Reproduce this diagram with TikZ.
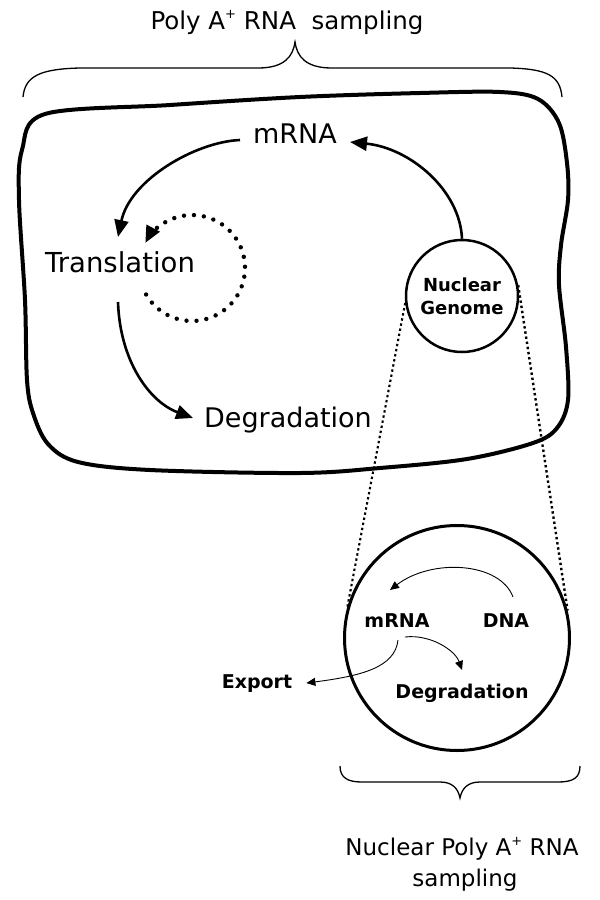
\documentclass[tikz,border=0pt]{standalone}
\usepackage{fontspec}
\setmainfont{DejaVu Sans}
\usetikzlibrary{arrows.meta}
\newcommand{\plussup}{\raisebox{0.42em}{\fontsize{13}{13}\selectfont +}}
\begin{document}
\begin{tikzpicture}[x=1pt,y=-1pt,
  cell/.style={line width=4pt, line join=round},
  nuc/.style={circle, draw, line width=2.5pt, inner sep=0pt},
  bigarrow/.style={line width=2.6pt, -{Triangle[length=17pt,width=14pt]}},
  thinarrow/.style={line width=0.9pt, -{Triangle[length=9pt,width=8pt]}},
  dotarc/.style={line width=4.4pt, line cap=round, dash pattern=on 0pt off 10pt},
  zoomline/.style={line width=2.4pt, dash pattern=on 2.4pt off 2.8pt},
  bracestyle/.style={line width=1.3pt},
  lbl/.style={font=\fontsize{27}{30}\selectfont, inner sep=0pt},
  blbl/.style={font=\bfseries\fontsize{19}{22}\selectfont, inner sep=0pt},
  captext/.style={font=\fontsize{23}{31}\selectfont, inner sep=0pt},
]
\fill[white] (0,0) rectangle (600,900);
\useasboundingbox (0,0) rectangle (600,900);

% titles
\node[captext, font=\fontsize{24.5}{31}\selectfont, anchor=base] (title) at (287,29) {Poly A\plussup{} RNA\ \ sampling};
\node[captext, anchor=base] (bt1) at (462,855) {Nuclear Poly A\plussup{} RNA};
\node[captext, anchor=base] (bt2) at (465,886) {sampling};

% top brace
\draw[bracestyle] (23,97) .. controls (25,76) and (40,69) .. (80,68) -- (258,68)
  .. controls (285,68) and (293,56) .. (295,42)
  .. controls (297,56) and (305,68) .. (332,68) -- (510,68)
  .. controls (548,69) and (560,76) .. (562,97);

% bottom brace
\draw[bracestyle] (340,766) .. controls (340,778) and (348,782) .. (362,782) -- (440,782)
  .. controls (452,782) and (458,788) .. (460,798)
  .. controls (462,788) and (468,782) .. (480,782) -- (558,782)
  .. controls (573,782) and (580,778) .. (580,766);

% cell outline
\draw[cell] plot[smooth cycle, tension=0.55] coordinates {
  (45,114) (170,105) (300,97) (420,93) (500,92) (538,99) (559,123)
  (567,163) (568,200) (561,245) (559,285) (566,347) (568,400)
  (557,428) (533,443) (467,459) (380,468) (300,473) (150,470)
  (78,462) (48,444) (33,413) (27,380) (25,300) (19,200) (22,150)};

% labels in cell
\node[lbl, anchor=base] (mrna) at (295,143) {mRNA};
\node[lbl, font=\fontsize{27.5}{30}\selectfont, anchor=base] (trans) at (120,272) {Translation};
\node[lbl, anchor=base] (deg) at (288,427) {Degradation};

% nuclear genome
\node[nuc, minimum size=112pt, align=center,
      font=\bfseries\fontsize{18}{23}\selectfont] (ng) at (462,296) {Nuclear\\Genome};

% big nucleus
\node[nuc, line width=3pt, minimum size=225pt] (bc) at (457,638) {};
\node[blbl, anchor=base] (m2) at (397,627) {mRNA};
\node[blbl, anchor=base] (dna) at (506,627) {DNA};
\node[blbl, anchor=base] (deg2) at (462,698) {Degradation};
\node[blbl, anchor=base] (exp) at (257,688) {Export};

% zoom lines
\draw[zoomline, line width=2.1pt] (ng.187) -- (bc.164);
\draw[zoomline] (ng.11) -- (bc.14);

% arrow endpoints
\coordinate (a1s) at (240,140);
\coordinate (a1e) at (118,237);
\coordinate (a2e) at (350,142);
\coordinate (a3s) at (118,302);
\coordinate (a3e) at (193,418);
\coordinate (c1) at (192,268);

% big arrows
\draw[bigarrow] (a1s) .. controls (195,142) and (130,180) .. (a1e);
\draw[bigarrow] (ng.north) .. controls (460,190) and (410,148) .. (a2e);
\draw[bigarrow] (a3s) .. controls (120,362) and (150,402) .. (a3e);
\draw[dotarc, -{Triangle[length=17pt,width=14pt]}]
  ([shift={(150:53)}]c1) arc[start angle=150, end angle=-152, radius=53];

% thin arrows
\coordinate (d1s) at (513,597);
\coordinate (d1e) at (390,590);
\coordinate (d2s) at (405,637);
\coordinate (d2e) at (462,670);
\coordinate (d3s) at (398,640);
\draw[thinarrow] (d1s) .. controls (500,562) and (432,558) .. (d1e);
\draw[thinarrow] (d2s) .. controls (430,634) and (455,650) .. (d2e);
\draw[thinarrow] (d3s) .. controls (395,668) and (360,676) .. ([xshift=14pt]exp.east);
\end{tikzpicture}
\end{document}
